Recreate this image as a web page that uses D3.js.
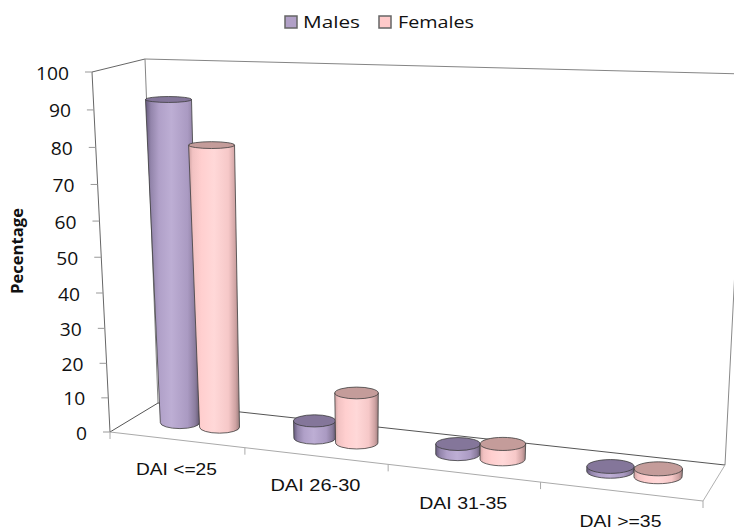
<!DOCTYPE html>
<html>
<head>
<meta charset="utf-8">
<script src="https://cdn.jsdelivr.net/npm/d3@7/dist/d3.min.js"></script>
<style>
html,body{margin:0;padding:0;background:#fff}
svg{display:block}
text{font-family:"Open Sans",sans-serif;fill:#111}
</style>
</head>
<body>
<svg id="chart" width="734" height="531"></svg>
<script>
const categories = ["DAI <=25", "DAI 26-30", "DAI 31-35", "DAI >=35"];
const seriesNames = ["Males", "Females"];
const males = [91.3, 4.9, 2.8, 1.3];
const females = [79.5, 14.1, 4.2, 2.1];
const valueTicks = [0, 10, 20, 30, 40, 50, 60, 70, 80, 90, 100];
const seriesValues = [males, females];

const svg = d3.select("#chart");

// Corners of the 3D plot box on screen.
const box = {
  frontLeftBottom: [110, 432], frontLeftTop: [92, 72],
  backLeftBottom: [158, 403], backLeftTop: [145, 59],
  frontRightBottom: [703, 501], frontRightTop: [725, 91],
  backRightBottom: [725, 465], backRightTop: [745, 74]
};
const mix = (a, b, t) => [a[0] + (b[0] - a[0]) * t, a[1] + (b[1] - a[1]) * t];
const foreshortenWidth = 1.132, foreshortenHeight = 1.06;
const foreshorten = (n, k) => n / (n + k * (1 - n));

// Scales in box space: category position along the floor, value up the walls.
const catScale = d3.scaleBand().domain(categories).range([0, 4]);
const seriesScale = d3.scaleBand().domain(seriesNames).range([0.205, 0.805]);
const valueScale = d3.scaleLinear().domain([0, 100]).range([0, 1]);
const heightAt = v => foreshorten(valueScale(v), foreshortenHeight);

// Maps category position, value and depth onto the screen with perspective.
function project(u, v, w) {
  const t = foreshorten(u / 4, foreshortenWidth);
  const front = mix(box.frontLeftBottom, box.frontRightBottom, t);
  const back = mix(box.backLeftBottom, box.backRightBottom, t);
  const frontTop = mix(box.frontLeftTop, box.frontRightTop, t);
  const backTop = mix(box.backLeftTop, box.backRightTop, t);
  return mix(mix(front, back, w), mix(frontTop, backTop, w), heightAt(v));
}
const line = (a, b, color, width) => svg.append("line")
  .attr("x1", a[0]).attr("y1", a[1]).attr("x2", b[0]).attr("y2", b[1])
  .attr("stroke", color).attr("stroke-width", width || 1);

// Horizontal shading that gives the cylinders their round look.
const defs = svg.append("defs");
const shades = [
  { stops: [[0, "#64587a"], [0.1, "#9385ab"], [0.25, "#b0a0c8"], [0.48, "#bdaed4"], [0.78, "#aa9ac2"], [0.92, "#8b7d9e"], [1, "#665a72"]],
    top: "#84769a", id: "shade0" },
  { stops: [[0, "#cfa3a3"], [0.08, "#f2c2c2"], [0.25, "#ffcfcf"], [0.5, "#ffd8d8"], [0.78, "#f6c8c8"], [0.92, "#cfa3a3"], [1, "#9d7f7f"]],
    top: "#c49c9a", id: "shade1" }
];
shades.forEach(s => {
  const g = defs.append("linearGradient").attr("id", s.id).attr("x1", 0).attr("x2", 1).attr("y1", 0).attr("y2", 0);
  s.stops.forEach(p => g.append("stop").attr("offset", p[0]).attr("stop-color", p[1]));
});

// Walls and floor edges.
line(box.backLeftTop, box.backRightTop, "#858585");
line(box.frontLeftTop, box.backLeftTop, "#666");
line(box.backLeftTop, box.backLeftBottom, "#858585");
line(box.backRightTop, box.backRightBottom, "#8a8a8a");
line(box.backLeftBottom, box.backRightBottom, "#555");
line(box.frontLeftBottom, box.backLeftBottom, "#555");
line(box.frontRightBottom, box.backRightBottom, "#b0b0b0");
line(box.frontLeftBottom, box.frontRightBottom, "#aaa");
line(box.frontLeftTop, box.frontLeftBottom, "#666");

// Value axis ticks and labels follow the slanted front edge.
valueTicks.forEach(v => {
  const p = project(0, v, 0);
  line([p[0] - 7, p[1]], p, "#999");
  svg.append("text").attr("x", p[0] - 23).attr("y", p[1] + 7.5).attr("text-anchor", "end")
    .attr("font-size", 17.5).attr("textLength", String(v).length * 11)
    .attr("lengthAdjust", "spacingAndGlyphs").text(v);
});

// Category ticks and labels below the front floor edge.
d3.range(0, 5).forEach(i => {
  const p = project(i, 0, 0);
  line(p, [p[0], p[1] + 7], "#aaa");
});
const labelFit = [81, 90, 88, 82];
categories.forEach((c, i) => {
  const p = project(catScale(c) + catScale.bandwidth() / 2, 0, 0);
  svg.append("text").attr("x", p[0]).attr("y", p[1] + 35.5).attr("text-anchor", "middle")
    .style("font-family", '"Liberation Sans", sans-serif')
    .attr("font-size", 16.5).attr("textLength", labelFit[i])
    .attr("lengthAdjust", "spacingAndGlyphs").text(c);
});

// Cylinders: side with shaded fill first, then the darker top cap.
const radiusU = 0.15, radiusW = 0.2;
function ellipseAt(u, v) {
  const c = project(u, v, 0.5);
  const rx = (project(u + radiusU, v, 0.5)[0] - project(u - radiusU, v, 0.5)[0]) / 2 * (1 + 0.12 * v / 100);
  const ry = Math.abs(project(u, v, 0.5 + radiusW)[1] - project(u, v, 0.5 - radiusW)[1]) / 2;
  return { x: c[0], y: c[1], rx, ry };
}
categories.forEach((c, ci) => {
  seriesNames.forEach((s, si) => {
    const u = catScale(c) + seriesScale(s) + seriesScale.bandwidth() / 2;
    const v = seriesValues[si][ci];
    const base = ellipseAt(u, 0), top = ellipseAt(u, v);
    svg.append("path")
      .attr("d", `M${top.x - top.rx},${top.y}L${base.x - base.rx},${base.y}` +
        `A${base.rx},${base.ry} 0 0 0 ${base.x + base.rx},${base.y}` +
        `L${top.x + top.rx},${top.y}Z`)
      .attr("fill", `url(#${shades[si].id})`)
      .attr("stroke", "#3c3c3c").attr("stroke-width", 0.8);
    svg.append("ellipse")
      .attr("cx", top.x).attr("cy", top.y).attr("rx", top.rx).attr("ry", top.ry)
      .attr("fill", shades[si].top).attr("stroke", "#3c3c3c").attr("stroke-width", 0.8);
  });
});

// Value axis title.
svg.append("text")
  .attr("transform", "translate(23,251) rotate(-90)")
  .attr("text-anchor", "middle").attr("font-size", 16).attr("font-weight", 700)
  .attr("textLength", 86).attr("lengthAdjust", "spacingAndGlyphs").text("Pecentage");

// Legend.
const legendItems = [
  { swatch: 285, text: 303, width: 57, fill: "#b1a0c7" },
  { swatch: 379, text: 398, width: 76, fill: "#ffcaca" }
];
legendItems.forEach((l, i) => {
  svg.append("rect").attr("x", l.swatch).attr("y", 16).attr("width", 12).attr("height", 12)
    .attr("fill", l.fill).attr("stroke", "#666").attr("stroke-width", 1.5);
  svg.append("text").attr("x", l.text).attr("y", 28).attr("font-size", 17)
    .attr("textLength", l.width).attr("lengthAdjust", "spacingAndGlyphs").text(seriesNames[i]);
});
</script>
</body>
</html>
